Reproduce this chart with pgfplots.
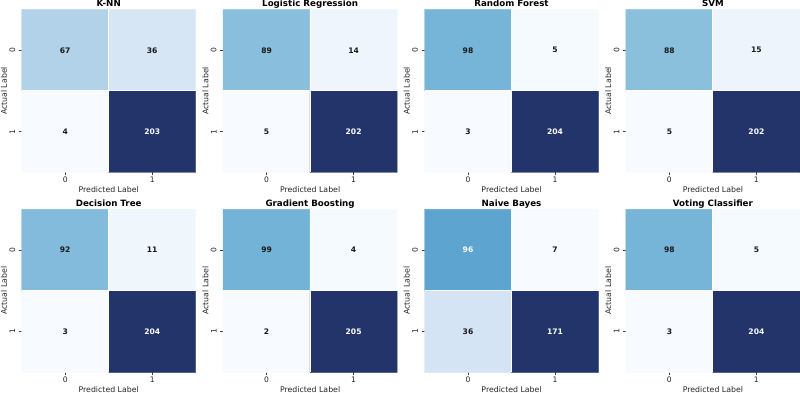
\documentclass[border=0pt]{standalone}
\usepackage{fontspec}
\setmainfont{DejaVu Sans}
\usepackage{pgfplots}
\pgfplotsset{compat=1.18}
\pgfplotsset{
  colormap={blues}{rgb255=(247,251,255) rgb255=(222,235,247) rgb255=(198,219,239) rgb255=(158,202,225) rgb255=(107,174,214) rgb255=(66,146,198) rgb255=(33,113,181) rgb255=(8,81,156) rgb255=(34,52,105)},
  every axis title shift=0pt,
  cm/.style={
    scale only axis, width=174pt, height=163pt,
    xmin=-0.5, xmax=1.5, ymin=-0.5, ymax=1.5, y dir=reverse,
    enlargelimits=false,
    xtick={0,1}, ytick={0,1},
    xtick pos=bottom, ytick pos=left,
    tick align=outside, major tick length=3pt,
    tick style={black!75, line width=0.6pt},
    axis line style={draw=none},
    colormap name=blues,
    /pgf/number format/assume math mode=true,
    tick label style={font=\fontsize{7.6}{8}\selectfont, text=black!85},
    xticklabel style={anchor=center, yshift=-4.5pt},
    yticklabel style={rotate=90, anchor=south},
    xlabel={Predicted Label}, ylabel={Actual Label},
    label style={font=\fontsize{7.8}{8}\selectfont, text=black!85},
    x label style={at={(axis description cs:0.5,0)}, anchor=center, yshift=-17.5pt},
    y label style={at={(axis description cs:-0.102,0.5)}, anchor=center},
    title style={at={(axis description cs:0.5,1)}, anchor=base, yshift=2.8pt, font=\fontsize{8.7}{10}\selectfont\bfseries},
    clip=false,
  },
  txt/.style={only marks, mark=none, nodes near coords, point meta=explicit symbolic,
    every node near coord/.append style={anchor=center, font=\fontsize{7.6}{8}\selectfont\bfseries, text=#1}},
}
% #1 x, #2 y, #3 title, #4 min, #5 max, #6 matrix coords, #7 black text coords, #8 white text coords
\newcommand\panel[8]{%
\begin{axis}[cm, at={(#1pt,#2pt)}, anchor=south west, title={#3}, point meta min=#4, point meta max=#5]
\addplot[matrix plot*, mesh/cols=2, point meta=explicit] coordinates {#6};
\draw[white, line width=1pt] (axis cs:0.5,-0.5) -- (axis cs:0.5,1.5);
\draw[white, line width=1pt] (axis cs:-0.5,0.5) -- (axis cs:1.5,0.5);
\addplot[txt=black!90] coordinates {#7};
\addplot[txt=white] coordinates {#8};
\end{axis}}
\begin{document}
\begin{tikzpicture}
\useasboundingbox (0,0) rectangle (800pt,393pt);
\panel{21.7}{220.5}{K-NN}{4}{203}{(0,0)[67] (1,0)[36] (0,1)[4] (1,1)[203]}{(0,0)[67] (1,0)[36] (0,1)[4]}{(1,1)[203]}
\panel{223.1}{220.5}{Logistic Regression}{5}{202}{(0,0)[89] (1,0)[14] (0,1)[5] (1,1)[202]}{(0,0)[89] (1,0)[14] (0,1)[5]}{(1,1)[202]}
\panel{424.5}{220.5}{Random Forest}{3}{204}{(0,0)[98] (1,0)[5] (0,1)[3] (1,1)[204]}{(0,0)[98] (1,0)[5] (0,1)[3]}{(1,1)[204]}
\panel{625.9}{220.5}{SVM}{5}{202}{(0,0)[88] (1,0)[15] (0,1)[5] (1,1)[202]}{(0,0)[88] (1,0)[15] (0,1)[5]}{(1,1)[202]}
\panel{21.7}{20.7}{Decision Tree}{3}{204}{(0,0)[92] (1,0)[11] (0,1)[3] (1,1)[204]}{(0,0)[92] (1,0)[11] (0,1)[3]}{(1,1)[204]}
\panel{223.1}{20.7}{Gradient Boosting}{2}{205}{(0,0)[99] (1,0)[4] (0,1)[2] (1,1)[205]}{(0,0)[99] (1,0)[4] (0,1)[2]}{(1,1)[205]}
\panel{424.5}{20.7}{Naive Bayes}{7}{171}{(0,0)[96] (1,0)[7] (0,1)[36] (1,1)[171]}{(1,0)[7] (0,1)[36]}{(0,0)[96] (1,1)[171]}
\panel{625.9}{20.7}{Voting Classifier}{3}{204}{(0,0)[98] (1,0)[5] (0,1)[3] (1,1)[204]}{(0,0)[98] (1,0)[5] (0,1)[3]}{(1,1)[204]}
\end{tikzpicture}
\end{document}
